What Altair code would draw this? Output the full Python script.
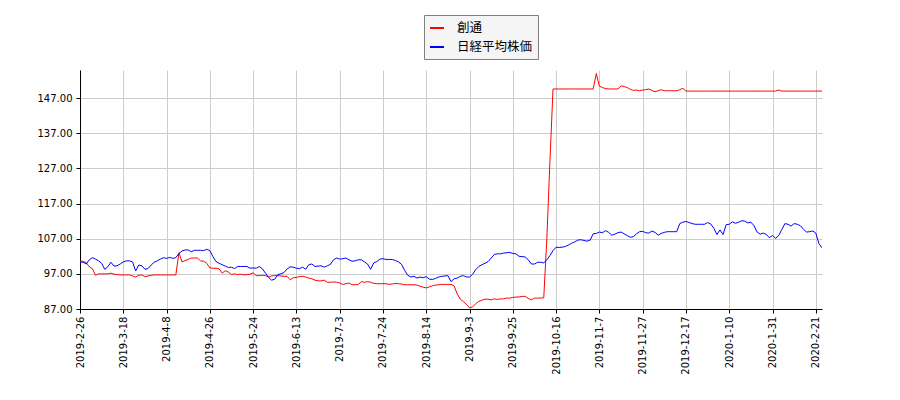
import altair as alt
import pandas as pd

tick_labels = ["2019-2-26", "2019-3-18", "2019-4-8", "2019-4-26", "2019-5-24",
               "2019-6-13", "2019-7-3", "2019-7-24", "2019-8-14", "2019-9-3",
               "2019-9-25", "2019-10-16", "2019-11-7", "2019-11-27", "2019-12-17",
               "2020-1-10", "2020-1-31", "2020-2-21"]
tick_step = 14
series_names = ["創通", "日経平均株価"]
series_colors = ["#ff0000", "#0000ff"]
y_ticks = [87, 97, 107, 117, 127, 137, 147]

soutsu = [
    100.6, 100.6, 100.2, 99.0, 98.5, 96.6, 97.0, 97.0, 97.0, 97.0,
    97.2, 96.9, 96.8, 96.7, 96.7, 96.7, 96.7, 96.4, 96.1, 96.6,
    96.7, 96.2, 96.4, 96.6, 96.7, 96.7, 96.7, 96.7, 96.7, 96.7,
    96.7, 96.7, 103.0, 100.4, 100.8, 101.1, 101.5, 101.5, 101.5, 100.7,
    100.6, 100.0, 98.7, 98.6, 98.6, 98.4, 97.2, 97.9, 97.5, 96.8,
    97.0, 96.8, 96.9, 96.7, 96.8, 96.9, 97.3, 96.5, 96.5, 96.6,
    96.5, 96.1, 96.4, 96.5, 96.5, 96.4, 96.3, 96.3, 95.3, 95.9,
    96.0, 96.2, 96.3, 96.1, 95.8, 95.6, 95.2, 95.0, 95.0, 95.2,
    94.6, 94.6, 94.7, 94.6, 94.4, 94.0, 94.2, 94.4, 93.9, 93.9,
    94.0, 94.8, 94.6, 94.8, 94.6, 94.3, 94.2, 94.2, 94.2, 94.2,
    94.0, 94.1, 94.3, 94.2, 94.1, 93.9, 93.9, 93.9, 93.9, 93.8,
    93.5, 93.2, 93.0, 93.3, 93.6, 93.8, 93.9, 94.0, 94.0, 94.0,
    94.0, 93.6, 91.3, 89.8, 89.1, 88.3, 87.3, 87.6, 88.5, 89.2,
    89.5, 89.8, 89.8, 89.6, 89.9, 89.7, 89.9, 89.9, 90.1, 90.1,
    90.3, 90.4, 90.4, 90.6, 90.6, 90.0, 89.6, 90.1, 90.1, 90.1,
    90.2, 107.0, 129.0, 149.6, 149.6, 149.6, 149.6, 149.6, 149.6, 149.6,
    149.6, 149.6, 149.6, 149.6, 149.6, 149.6, 149.6, 154.0, 150.4, 150.0,
    149.7, 149.6, 149.6, 149.6, 149.6, 150.5, 150.3, 150.0, 149.5, 149.2,
    149.3, 149.1, 149.3, 149.4, 149.6, 149.2, 148.8, 149.1, 149.4, 149.1,
    149.1, 149.1, 149.1, 149.1, 149.4, 149.8, 149.0, 149.0, 149.0, 149.0,
    149.0, 149.0, 149.0, 149.0, 149.0, 149.0, 149.0, 149.0, 149.0, 149.0,
    149.0, 149.0, 149.0, 149.0, 149.0, 149.0, 149.0, 149.0, 149.0, 149.0,
    149.0, 149.0, 149.0, 149.0, 149.0, 149.0, 149.3, 149.0, 149.0, 149.0,
    149.0, 149.0, 149.0, 149.0, 149.0, 149.0, 149.0, 149.0, 149.0, 149.0,
    149.0,
]

nikkei = [
    100.4, 100.3, 99.8, 101.0, 101.6, 101.2, 100.7, 100.0, 98.3, 99.0,
    100.3, 99.2, 99.3, 99.8, 100.4, 100.7, 100.7, 100.4, 97.8, 99.5,
    99.3, 98.3, 98.5, 99.5, 100.3, 100.7, 101.2, 101.6, 101.4, 101.7,
    101.4, 101.6, 102.8, 103.5, 103.8, 103.8, 103.3, 103.7, 103.7, 103.7,
    103.6, 104.0, 103.6, 101.9, 100.5, 100.0, 99.6, 99.2, 98.8, 98.9,
    98.5, 99.1, 99.1, 99.1, 99.1, 98.6, 98.7, 98.6, 99.1, 98.4,
    97.2, 96.0, 95.2, 95.5, 96.8, 97.0, 97.4, 98.4, 99.0, 98.9,
    98.6, 98.5, 98.9, 98.3, 99.6, 99.8, 99.1, 99.2, 99.3, 98.9,
    99.3, 99.7, 101.0, 101.5, 101.2, 101.3, 101.5, 101.0, 100.6, 100.7,
    101.0, 101.0, 100.4, 99.8, 98.3, 100.1, 100.5, 101.2, 101.3, 101.1,
    101.1, 101.1, 100.8, 100.4, 99.7, 98.0, 96.6, 96.1, 96.3, 95.8,
    96.1, 95.9, 96.2, 95.5, 95.4, 95.7, 96.1, 96.3, 96.4, 96.5,
    94.8, 95.6, 95.8, 96.3, 96.5, 96.1, 96.1, 96.9, 98.2, 99.1,
    99.6, 100.0, 100.5, 101.5, 102.5, 102.7, 102.7, 102.9, 103.0, 103.1,
    102.8, 102.7, 102.0, 101.9, 101.8, 101.0, 99.8, 99.8, 100.3, 100.3,
    100.1, 101.0, 102.2, 103.6, 104.6, 104.5, 104.6, 104.8, 105.2, 105.7,
    106.1, 106.6, 106.7, 106.5, 106.3, 106.6, 108.4, 108.5, 108.9, 108.7,
    109.3, 108.8, 108.0, 108.3, 108.7, 108.9, 108.4, 107.9, 107.4, 107.6,
    108.4, 109.0, 109.1, 108.7, 108.6, 109.2, 108.8, 108.0, 108.5, 108.8,
    109.0, 109.0, 109.0, 109.0, 111.3, 111.7, 111.9, 111.6, 111.3, 111.1,
    111.1, 111.1, 111.1, 111.6, 111.2, 110.0, 108.2, 109.5, 108.2, 111.0,
    111.1, 111.8, 111.4, 111.7, 112.1, 112.0, 111.5, 111.7, 110.7, 108.9,
    108.3, 108.6, 108.2, 107.3, 107.9, 107.1, 107.9, 109.6, 111.3, 111.1,
    110.6, 111.3, 111.1, 110.7, 109.7, 108.9, 109.0, 109.2, 108.6, 105.6,
    104.4,
]

rows = []
for name, vals in zip(series_names, [soutsu, nikkei]):
    for i, v in enumerate(vals):
        rows.append({"idx": i, "value": v, "series": name})
df = pd.DataFrame(rows)

label_expr = "[" + ",".join("'" + t + "'" for t in tick_labels) + "][round(datum.value/" + str(tick_step) + ")]"
x_tick_values = [i * tick_step for i in range(len(tick_labels))]

chart = alt.Chart(df).mark_line(strokeWidth=1, clip=True).encode(
    x=alt.X("idx:Q",
            scale=alt.Scale(domain=[0, 240], nice=False, zero=False),
            axis=alt.Axis(values=x_tick_values, labelExpr=label_expr, labelAngle=270,
                          title=None, labelPadding=3)),
    y=alt.Y("value:Q",
            scale=alt.Scale(domain=[87, 155], nice=False, zero=False),
            axis=alt.Axis(values=y_ticks, format=".2f", title=None, labelPadding=4)),
    color=alt.Color("series:N",
                    scale=alt.Scale(domain=series_names, range=series_colors),
                    legend=alt.Legend(title=None, orient="none", legendX=344, legendY=-55,
                                      direction="vertical", fillColor="#f5f5f5",
                                      strokeColor="#808080", padding=5,
                                      labelFont="Noto Sans CJK JP", labelFontSize=12.5,
                                      labelColor="#000000",
                                      symbolType="stroke", symbolStrokeWidth=2,
                                      symbolSize=196, labelOffset=12, rowPadding=4)),
    detail="series:N",
).properties(
    width=742, height=239,
    autosize=alt.AutoSizeParams(type="none"),
    padding={"left": 72, "top": 62, "right": 30, "bottom": 74},
).configure_view(
    strokeWidth=0
).configure_axis(
    domainColor="#000000", tickColor="#000000", labelColor="#000000",
    gridColor="#cccccc", gridWidth=1, labelFont="DejaVu Sans", labelFontSize=10,
    tickSize=4, domainWidth=1
)

chart.save("out.html", embed_options={"renderer": "svg", "actions": False})
